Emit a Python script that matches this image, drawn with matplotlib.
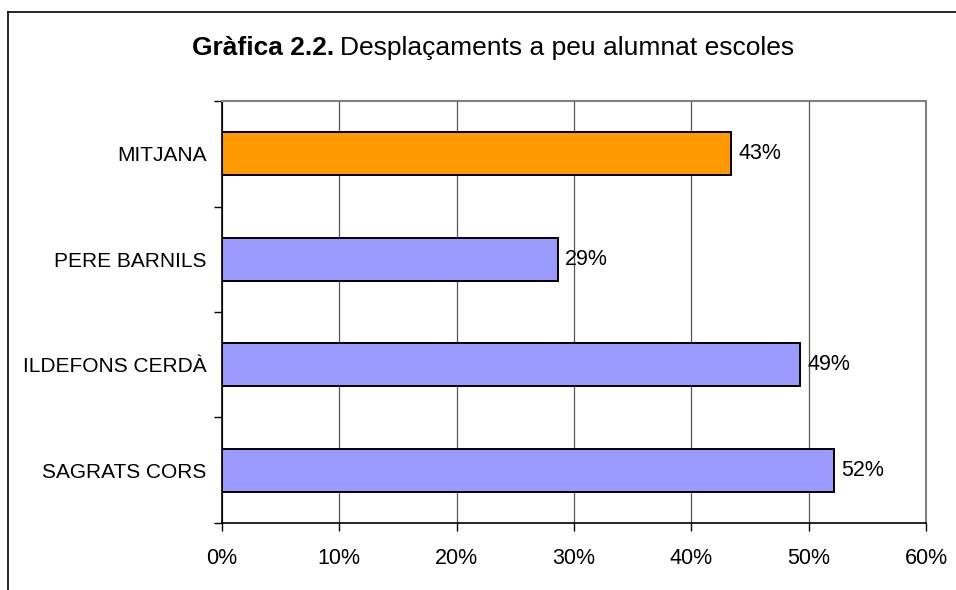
import matplotlib.pyplot as plt
from matplotlib.lines import Line2D
from matplotlib.ticker import FixedLocator, PercentFormatter

plt.rcParams['font.family'] = ['Liberation Sans', 'DejaVu Sans']

# data, top to bottom as shown
categories = ['SAGRATS CORS', 'ILDEFONS CERDÀ', 'PERE BARNILS', 'MITJANA']
values = [52.2, 49.3, 28.6, 43.4]
labels = ['52%', '49%', '29%', '43%']
colors = ['#9999FF', '#9999FF', '#9999FF', '#FF9900']

fig = plt.figure(figsize=(9.56, 5.90), dpi=100)
ax = fig.add_axes([0.2322, 0.1136, 0.7364, 0.7152])

ypos = list(range(len(categories)))
ax.barh(ypos, values, height=0.41, color=colors, edgecolor='black', linewidth=1.4, zorder=3)

for y, v, t in zip(ypos, values, labels):
    ax.text(v + 0.6, y, t, va='center', ha='left', fontsize=15.5)

ax.set_xlim(0, 60)
ax.set_ylim(-0.5, 3.5)
ax.set_xticks(range(0, 61, 10))
ax.xaxis.set_major_formatter(PercentFormatter(decimals=0))
ax.set_yticks(ypos)
ax.set_yticklabels(categories)
ax.yaxis.set_minor_locator(FixedLocator([-0.5, 0.5, 1.5, 2.5, 3.5]))
ax.tick_params(axis='y', which='major', length=0, pad=11, labelsize=15)
ax.tick_params(axis='y', which='minor', length=6, width=1)
ax.tick_params(axis='x', length=6, width=1, pad=12, labelsize=15.5)

ax.grid(axis='x', color='#555555', linewidth=0.9, zorder=0)
for s in ['top', 'right']:
    ax.spines[s].set_color('#808080')
    ax.spines[s].set_linewidth(1.5)
for s in ['left', 'bottom']:
    ax.spines[s].set_color('black')
    ax.spines[s].set_linewidth(1.2)

# title: bold part then regular part
t1 = fig.text(192 / 956, 0.918, 'Gràfica 2.2.', ha='left', va='center',
              fontsize=19, fontweight='bold')
fig.canvas.draw()
bb = t1.get_window_extent()
fig.text((bb.x1 + 6) / 956, 0.918, 'Desplaçaments a peu alumnat escoles',
         ha='left', va='center', fontsize=19)

# chart border (top and left)
fig.add_artist(Line2D([8 / 956, 1], [1 - 12 / 590, 1 - 12 / 590], color='black', linewidth=1.2))
fig.add_artist(Line2D([8 / 956, 8 / 956], [0, 1 - 12 / 590], color='black', linewidth=1.2))

fig.savefig('out.png', dpi=100)
